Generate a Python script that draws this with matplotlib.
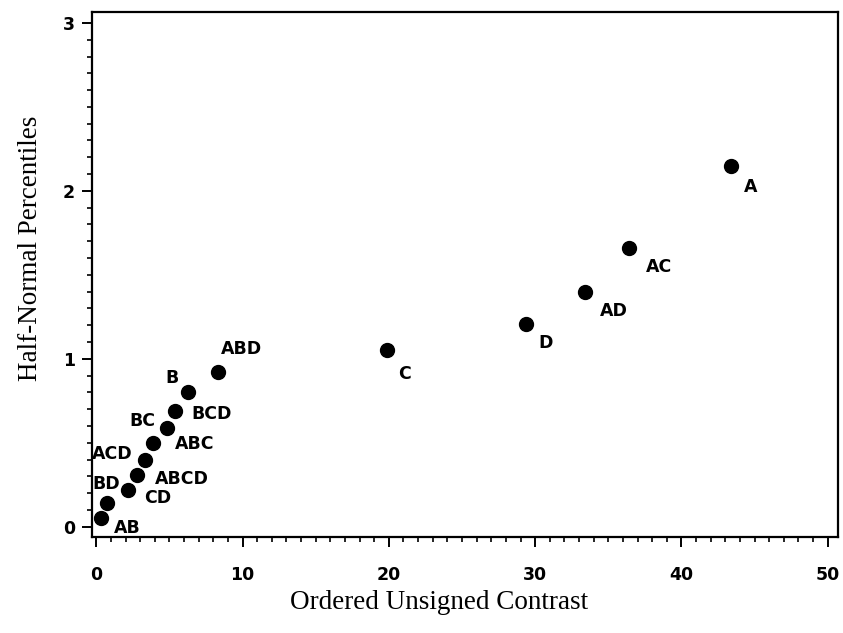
import matplotlib
matplotlib.use("Agg")
import matplotlib.pyplot as plt
from matplotlib.ticker import MultipleLocator

# effects, ordered unsigned contrast vs half-normal percentile
effects = ["AB", "BD", "CD", "ABCD", "ACD", "ABC", "BC", "BCD", "B", "ABD",
           "C", "D", "AD", "AC", "A"]
contrast = [0.3, 0.75, 2.2, 2.8, 3.35, 3.85, 4.85, 5.35, 6.3, 8.3,
            19.9, 29.4, 33.4, 36.4, 43.4]
percentile = [0.05, 0.14, 0.22, 0.31, 0.40, 0.50, 0.59, 0.69, 0.80, 0.92,
              1.05, 1.21, 1.40, 1.66, 2.15]

x_ticks = [0, 10, 20, 30, 40, 50]
y_ticks = [0, 1, 2, 3]

# label offsets in points (dx, dy) from each dot
offsets = [(19, -7), (-1, 14), (21, -6), (32, -3), (-24, 4), (30, -1),
           (-18, 5), (27, -2), (-12, 10), (17, 17),
           (12, -17), (14, -14), (21, -14), (22, -14), (14, -15)]

fig = plt.figure(figsize=(8.43, 6.33), dpi=100)
ax = fig.add_axes([0.109, 0.152, 0.885, 0.829])

ax.scatter(contrast, percentile, s=100, color='black', zorder=3, clip_on=False)

for name, x, y, off in zip(effects, contrast, percentile, offsets):
    ax.annotate(name, (x, y), xytext=off, textcoords='offset points',
                ha='center', va='center', fontsize=12.5, fontweight='bold',
                family='DejaVu Sans')

ax.set_xlim(-0.3, 50.7)
ax.set_ylim(-0.06, 3.065)
ax.set_xticks(x_ticks)
ax.set_yticks(y_ticks)
ax.xaxis.set_minor_locator(MultipleLocator(1))
ax.yaxis.set_minor_locator(MultipleLocator(0.1))

for s in ax.spines.values():
    s.set_linewidth(1.6)

ax.tick_params(which='major', direction='out', length=7, width=1.4,
               labelsize=12.5)
ax.tick_params(which='minor', direction='out', length=3.5, width=1.2)
ax.tick_params(axis='x', which='major', pad=14)
ax.tick_params(axis='y', which='major', pad=5)
for lab in ax.get_xticklabels() + ax.get_yticklabels():
    lab.set_fontweight('bold')

ax.set_xlabel("Ordered Unsigned Contrast", fontsize=19.5,
              family='Liberation Serif')
ax.set_ylabel("Half-Normal Percentiles", fontsize=19.5,
              family='Liberation Serif')
# labels sit a little off-centre in the original
ax.xaxis.set_label_coords(0.466, -0.102)
ax.yaxis.set_label_coords(-0.066, 0.549)

plt.savefig("out.png", dpi=100)
plt.close()
